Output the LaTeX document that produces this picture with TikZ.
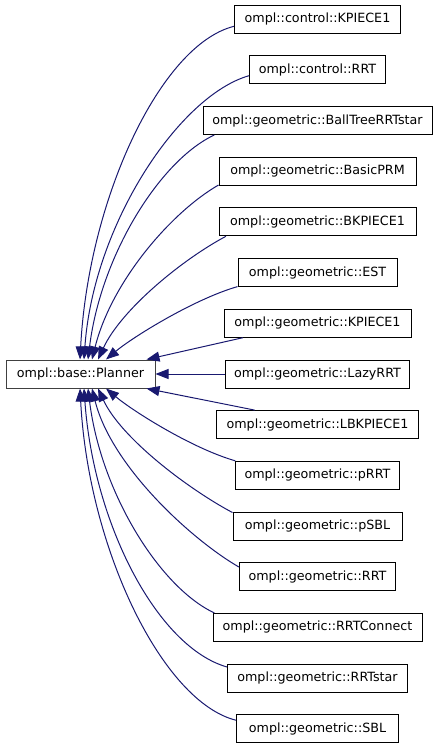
\documentclass[tikz,border=0pt]{standalone}
\usepackage{fontspec}
\newfontfamily\doxfont{DejaVu Sans}
\usetikzlibrary{arrows.meta}
\definecolor{edgeblue}{HTML}{191970}
\definecolor{rootgray}{HTML}{404040}
\begin{document}
\begin{tikzpicture}[x=1pt, y=1pt,
    cls/.style={draw=black, fill=white, line width=1pt, inner sep=0pt,
      minimum height=28pt, font=\doxfont\fontsize{12.7}{15}\selectfont},
    root/.style={cls, draw=rootgray},
    inherit/.style={edgeblue, line width=1pt,
      -{Triangle[length=13pt, width=10pt]}}]
  \useasboundingbox (0,0) rectangle (437,-747);
  \path
    (80.5,-374) node[root, minimum width=149pt] (planner){ompl::base::Planner}
    (317.5,-19) node[cls, minimum width=166pt] (ckpiece){ompl::control::KPIECE1}
    (317.5,-69.7) node[cls, minimum width=136pt] (crrt){ompl::control::RRT}
    (317.5,-120.5) node[cls, minimum width=229pt] (balltree){ompl::geometric::BallTreeRRTstar}
    (317.5,-171.1) node[cls, minimum width=197pt] (basicprm){ompl::geometric::BasicPRM}
    (317.5,-221.8) node[cls, minimum width=197pt] (bkpiece){ompl::geometric::BKPIECE1}
    (317.5,-272.5) node[cls, minimum width=159pt] (est){ompl::geometric::EST}
    (317.5,-323.2) node[cls, minimum width=187pt] (gkpiece){ompl::geometric::KPIECE1}
    (317.5,-374) node[cls, minimum width=184pt] (lazyrrt){ompl::geometric::LazyRRT}
    (317.5,-424.6) node[cls, minimum width=202pt] (lbkpiece){ompl::geometric::LBKPIECE1}
    (317.5,-475.3) node[cls, minimum width=164pt] (prrt){ompl::geometric::pRRT}
    (317.5,-526) node[cls, minimum width=169pt] (psbl){ompl::geometric::pSBL}
    (317.5,-576.7) node[cls, minimum width=156pt] (grrt){ompl::geometric::RRT}
    (317.5,-627.4) node[cls, minimum width=209pt] (rrtconnect){ompl::geometric::RRTConnect}
    (317.5,-678.1) node[cls, minimum width=180pt] (rrtstar){ompl::geometric::RRTstar}
    (317.5,-728.8) node[cls, minimum width=162pt] (sbl){ompl::geometric::SBL};
  \begin{scope}[inherit]
    % above the base class
    \draw (ckpiece.185) to[out=194, in=87, out distance=76pt, in distance=160pt] ([xshift=-0.5pt]planner.north);
    \draw (crrt.185) to[out=196, in=86, out distance=73pt, in distance=135pt] ([xshift=3.5pt]planner.north);
    \draw (balltree.188) to[out=205, in=83, out distance=60pt, in distance=105pt] ([xshift=7.5pt]planner.north);
    \draw (basicprm.188) to[out=210, in=76, out distance=55pt, in distance=80pt] ([xshift=11.5pt]planner.north);
    \draw (bkpiece.189) to[out=208, in=65, out distance=50pt, in distance=55pt] ([xshift=17.5pt]planner.north);
    \draw (est.190) to[out=196, in=40, out distance=45pt, in distance=35pt] ([xshift=25.5pt]planner.north);
    \draw (gkpiece.191) -- ([xshift=66pt]planner.north);
    \draw (lazyrrt.west) -- (planner.east);
    % below the base class
    \draw (lbkpiece.167) -- ([xshift=66pt]planner.south);
    \draw (prrt.170) to[out=164, in=320, out distance=45pt, in distance=35pt] ([xshift=25.5pt]planner.south);
    \draw (psbl.171) to[out=152, in=295, out distance=50pt, in distance=55pt] ([xshift=17.5pt]planner.south);
    \draw (grrt.173) to[out=150, in=284, out distance=55pt, in distance=80pt] ([xshift=11.5pt]planner.south);
    \draw (rrtconnect.172) to[out=155, in=277, out distance=60pt, in distance=105pt] ([xshift=7.5pt]planner.south);
    \draw (rrtstar.173) to[out=164, in=274, out distance=73pt, in distance=135pt] ([xshift=3.5pt]planner.south);
    \draw (sbl.174) to[out=166, in=273, out distance=76pt, in distance=160pt] ([xshift=-0.5pt]planner.south);
  \end{scope}
\end{tikzpicture}
\end{document}
